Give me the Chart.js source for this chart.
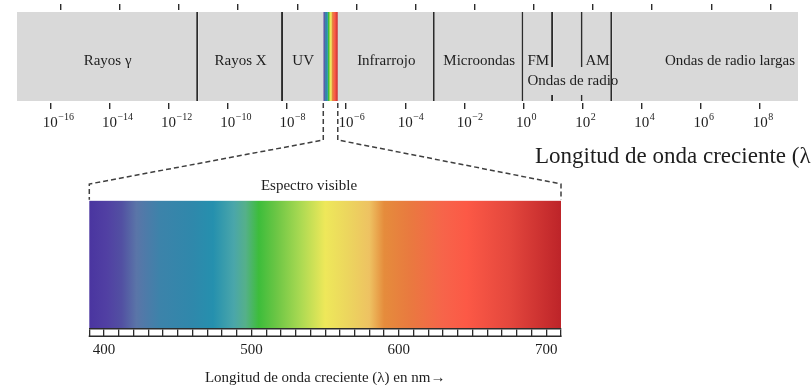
<!DOCTYPE html>
<html>
<head>
<meta charset="utf-8">
<script src="https://cdn.jsdelivr.net/npm/chart.js@4.4.1/dist/chart.umd.min.js"></script>
<style>
  html, body { margin: 0; padding: 0; background: #ffffff; }
  #wrap { position: relative; width: 811px; height: 385px; overflow: hidden; }
  #wrap canvas { position: absolute; left: 0; top: 0; }
</style>
</head>
<body>
<div id="wrap">
  <canvas id="topChart" width="811" height="385"></canvas>
  <canvas id="visChart" width="811" height="385"></canvas>
</div>
<script>
// ---------------- DATA ----------------
// Electromagnetic spectrum bands, wavelength in metres given as powers of ten
const BAND_LABELS    = ['Rayos γ', 'Rayos X', 'UV', 'Infrarrojo', 'Microondas', 'FM', '', 'AM', 'Ondas de radio largas'];
const BAND_START_EXP = [-17.125, -11, -8.13, -6.28, -3, 0, 1, 2, 3];
const BAND_END_EXP   = [-11, -8.13, -6.77, -3, 0, 1, 2, 3, 9.28];
const RADIO_GROUP_LABEL = 'Ondas de radio';
const VISIBLE_EXP    = [-6.77, -6.28];
// tick marks of the wavelength scale (labelled, below) and the unlabelled scale above
const WL_TICK_EXP    = [-16, -14, -12, -10, -8, -6, -4, -2, 0, 2, 4, 6, 8];
const TOP_TICK_EXP   = [-15.65, -13.65, -11.65, -9.65, -7.65, -5.65, -3.65, -1.65, 0.35, 2.35, 4.35, 6.35, 8.35];
// visible spectrum (nm)
const VIS_RANGE_NM   = [390, 710];
const VIS_LABELS_NM  = [400, 500, 600, 700];
const SPECTRUM_NM     = [390, 402, 412, 422, 438, 460, 474, 488, 496, 505, 517, 533, 550, 565, 580, 590, 607, 630, 646, 675, 710];
const SPECTRUM_COLORS = ['#4a35a0', '#5140a3', '#5250a2', '#5a75a8', '#3c83aa', '#2f88ab', '#2590ae', '#4aa6aa', '#55b08a',
                         '#3dbd3b', '#6cc645', '#a9d952', '#eee85a', '#ecd65e', '#eec262', '#e58c3c', '#e97a3f', '#f7644a',
                         '#fc5946', '#e4473d', '#bd2429'];
// texts
const MAIN_AXIS_TITLE = 'Longitud de onda creciente (λ)→';
const VIS_TITLE       = 'Espectro visible';
const VIS_AXIS_TITLE  = 'Longitud de onda creciente (λ) en nm→';

// ---------------- STYLE ----------------
const SERIF = '"Liberation Serif", "Times New Roman", "DejaVu Serif", serif';
const BAND_GRAY = '#d9d9d9';
const LINE = '#2b2b2b';
const TEXT = '#1e1e1e';

function spectrumGradient(ctx, x0, x1) {
  const g = ctx.createLinearGradient(x0, 0, x1, 0);
  const lo = VIS_RANGE_NM[0], hi = VIS_RANGE_NM[1];
  SPECTRUM_NM.forEach((nm, i) => g.addColorStop((nm - lo) / (hi - lo), SPECTRUM_COLORS[i]));
  return g;
}

// ---------------- TOP CHART: full spectrum on a log wavelength scale ----------------
const bandData = BAND_START_EXP.map((s, i) => ({ x: [Math.pow(10, s), Math.pow(10, BAND_END_EXP[i])], y: 'espectro' }));
const bandBorders = BAND_START_EXP.map((s, i) => {
  const contiguous = i < BAND_START_EXP.length - 1 && BAND_START_EXP[i + 1] === BAND_END_EXP[i];
  return { top: 0, bottom: 0, left: 0, right: contiguous ? 2 : 0 };
});

const topLabelsPlugin = {
  id: 'topLabels',
  afterDatasetsDraw(chart) {
    const ctx = chart.ctx;
    const meta = chart.getDatasetMeta(0);
    const els = meta.data;
    ctx.save();
    // box for the grouped radio label (interrupts the FM | | AM separators)
    const fm = els[5], am = els[7];
    const fmStart = Math.min(fm.x, fm.base), amEnd = Math.max(am.x, am.base);
    ctx.fillStyle = BAND_GRAY;
    ctx.fillRect(fmStart + 2, fm.y + 10.5, amEnd - fmStart - 4.5, 28);
    ctx.fillStyle = TEXT;
    ctx.font = '15px ' + SERIF;
    ctx.textBaseline = 'alphabetic';
    els.forEach((el, i) => {
      const label = BAND_LABELS[i];
      if (!label) return;
      const a = Math.min(el.x, el.base), b = Math.max(el.x, el.base);
      if (i === els.length - 1) {
        ctx.textAlign = 'right';
        ctx.fillText(label, b - 3, el.y + 8.5);
      } else {
        ctx.textAlign = 'center';
        ctx.fillText(label, (a + b) / 2, el.y + 8.5);
      }
    });
    ctx.textAlign = 'left';
    ctx.fillText(RADIO_GROUP_LABEL, fmStart + 4, fm.y + 28.5);
    ctx.restore();
  },
  afterDraw(chart) {
    const ctx = chart.ctx;
    const xs = chart.scales.x;
    ctx.save();
    ctx.fillStyle = TEXT;
    ctx.textBaseline = 'alphabetic';
    xs.ticks.forEach(t => {
      const px = xs.getPixelForValue(t.value);
      const e = Math.round(Math.log10(t.value));
      ctx.font = '15px ' + SERIF;
      const w = ctx.measureText('10').width;
      ctx.textAlign = 'left';
      ctx.fillText('10', px - w / 2, xs.top + 24);
      ctx.font = '10px ' + SERIF;
      ctx.fillText(e < 0 ? '\u2212' + Math.abs(e) : String(e), px + w / 2 + 0.5, xs.top + 17);
    });
    ctx.font = '23px ' + SERIF;
    ctx.textAlign = 'left';
    ctx.fillText(MAIN_AXIS_TITLE, 535, 163);
    ctx.restore();
  }
};

const topChart = new Chart(document.getElementById('topChart'), {
  type: 'bar',
  data: {
    labels: ['espectro'],
    datasets: [
      {
        label: 'Bandas',
        data: bandData,
        backgroundColor: BAND_GRAY,
        borderColor: LINE,
        borderWidth: bandBorders,
        borderSkipped: false,
        grouped: false,
        categoryPercentage: 1,
        barPercentage: 0.957
      },
      {
        label: 'Visible',
        data: [{ x: [Math.pow(10, VISIBLE_EXP[0]), Math.pow(10, VISIBLE_EXP[1])], y: 'espectro' }],
        backgroundColor: (c) => {
          const ch = c.chart;
          if (!ch.chartArea) return '#888';
          const s = ch.scales.x;
          return spectrumGradient(ch.ctx, s.getPixelForValue(Math.pow(10, VISIBLE_EXP[0])), s.getPixelForValue(Math.pow(10, VISIBLE_EXP[1])));
        },
        borderWidth: 0,
        borderSkipped: false,
        grouped: false,
        categoryPercentage: 1,
        barPercentage: 0.957
      }
    ]
  },
  options: {
    indexAxis: 'y',
    responsive: false,
    animation: false,
    devicePixelRatio: 1,
    layout: { padding: { left: 17, right: 13, top: 4, bottom: 252 } },
    plugins: { legend: { display: false }, tooltip: { enabled: false } },
    scales: {
      y: { type: 'category', display: false },
      x: {
        type: 'logarithmic',
        position: 'bottom',
        bounds: 'data',
        min: Math.pow(10, BAND_START_EXP[0]),
        max: Math.pow(10, BAND_END_EXP[BAND_END_EXP.length - 1]),
        afterBuildTicks: (s) => { s.ticks = WL_TICK_EXP.map(e => ({ value: Math.pow(10, e) })); },
        afterFit: (s) => { s.height = 30; },
        grid: { drawOnChartArea: false, drawTicks: true, tickLength: 6, color: LINE, lineWidth: 1.4 },
        border: { display: false },
        ticks: { display: false }
      },
      xTop: {
        type: 'logarithmic',
        position: 'top',
        bounds: 'data',
        min: Math.pow(10, BAND_START_EXP[0]),
        max: Math.pow(10, BAND_END_EXP[BAND_END_EXP.length - 1]),
        afterBuildTicks: (s) => { s.ticks = TOP_TICK_EXP.map(e => ({ value: Math.pow(10, e) })); },
        afterFit: (s) => { s.height = 6; },
        grid: { drawOnChartArea: false, drawTicks: true, tickLength: 6, color: LINE, lineWidth: 1.4 },
        border: { display: false },
        ticks: { display: false }
      }
    }
  },
  plugins: [topLabelsPlugin]
});

// ---------------- BOTTOM CHART: visible spectrum on a linear nm scale ----------------
const visPlugin = {
  id: 'visDecor',
  afterDraw(chart) {
    const ctx = chart.ctx;
    const xs = chart.scales.x;
    const area = chart.chartArea;
    ctx.save();
    // closing line of the tick strip
    ctx.strokeStyle = LINE;
    ctx.lineWidth = 1.6;
    ctx.beginPath();
    ctx.moveTo(xs.left - 0.6, area.bottom + 8);
    ctx.lineTo(xs.right + 0.6, area.bottom + 8);
    ctx.stroke();
    // dashed zoom connectors from the visible stripe of the top scale
    const ts = topChart.scales.x;
    const sx = [ts.getPixelForValue(Math.pow(10, VISIBLE_EXP[0])), ts.getPixelForValue(Math.pow(10, VISIBLE_EXP[1]))];
    const ex = [xs.getPixelForValue(VIS_RANGE_NM[0]), xs.getPixelForValue(VIS_RANGE_NM[1])];
    const y0 = topChart.chartArea.bottom, y1 = 140, y2 = 184, y3 = area.top - 1;
    ctx.strokeStyle = '#3f3f3f';
    ctx.lineWidth = 1.5;
    ctx.setLineDash([5, 3]);
    for (let k = 0; k < 2; k++) {
      ctx.beginPath();
      ctx.moveTo(sx[k], y0);
      ctx.lineTo(sx[k], y1);
      ctx.lineTo(ex[k], y2);
      ctx.lineTo(ex[k], y3);
      ctx.stroke();
    }
    ctx.setLineDash([]);
    // title above the visible bar
    ctx.fillStyle = TEXT;
    ctx.font = '15px ' + SERIF;
    ctx.textAlign = 'center';
    ctx.textBaseline = 'alphabetic';
    ctx.fillText(VIS_TITLE, 309, 190);
    ctx.restore();
  }
};

new Chart(document.getElementById('visChart'), {
  type: 'bar',
  data: {
    labels: ['visible'],
    datasets: [{
      label: 'Espectro visible',
      data: [{ x: VIS_RANGE_NM, y: 'visible' }],
      backgroundColor: (c) => {
        const ch = c.chart;
        if (!ch.chartArea) return '#888';
        const s = ch.scales.x;
        return spectrumGradient(ch.ctx, s.getPixelForValue(VIS_RANGE_NM[0]), s.getPixelForValue(VIS_RANGE_NM[1]));
      },
      borderWidth: 0,
      borderSkipped: false,
      grouped: false,
      categoryPercentage: 1,
      barPercentage: 1
    }]
  },
  options: {
    indexAxis: 'y',
    responsive: false,
    animation: false,
    devicePixelRatio: 1,
    layout: { padding: { left: 89.3, right: 250, top: 200.7, bottom: 0 } },
    plugins: { legend: { display: false }, tooltip: { enabled: false } },
    scales: {
      y: { type: 'category', display: false },
      x: {
        type: 'linear',
        position: 'bottom',
        min: VIS_RANGE_NM[0],
        max: VIS_RANGE_NM[1],
        afterFit: (s) => { s.height = 56.7; },
        grid: { drawOnChartArea: false, drawTicks: true, tickLength: 8, color: LINE, lineWidth: 1.3 },
        border: { display: true, color: LINE, width: 1.6, z: 1 },
        ticks: {
          stepSize: 10,
          autoSkip: false,
          maxRotation: 0,
          padding: 5,
          color: TEXT,
          font: { family: SERIF, size: 15 },
          callback: (v) => VIS_LABELS_NM.includes(v) ? String(v) : ''
        },
        title: {
          display: true,
          text: VIS_AXIS_TITLE,
          color: TEXT,
          font: { family: SERIF, size: 15 },
          padding: { top: 0, bottom: -2 }
        }
      }
    }
  },
  plugins: [visPlugin]
});
</script>
</body>
</html>
